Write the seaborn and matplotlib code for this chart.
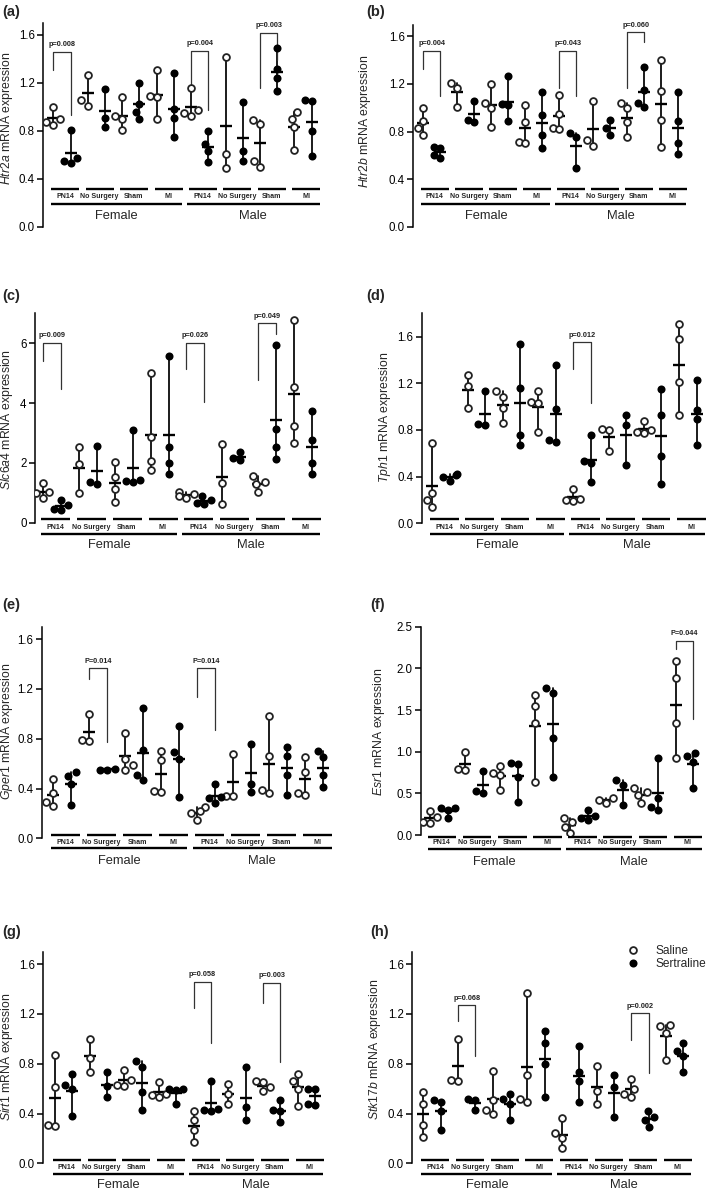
import numpy as np
import pandas as pd
import matplotlib
matplotlib.use('Agg')
import matplotlib.pyplot as plt
import matplotlib.transforms as mtransforms
from matplotlib.lines import Line2D
from matplotlib.ticker import FormatStrFormatter
import seaborn as sns
import warnings
warnings.filterwarnings('ignore')

sns.set_style('ticks')
plt.rcParams['font.family'] = ['Liberation Sans', 'DejaVu Sans']
plt.rcParams['mathtext.fontset'] = 'custom'
plt.rcParams['mathtext.it'] = 'Liberation Sans:italic'
plt.rcParams['mathtext.rm'] = 'Liberation Sans'

# ---------------------------------------------------------------------------
# Data (order: Female PN14 Sal/Ser, No Surgery, Sham, MI, then Male ...)
# ---------------------------------------------------------------------------
sexes = ['Female', 'Male']
conditions = ['PN14', 'No Surgery', 'Sham', 'MI']
treatments = ['Saline', 'Sertraline']
groups = [f'{s}|{c}|{t}' for s in sexes for c in conditions for t in treatments]

htr2a = [[1.00, 0.90, 0.87, 0.85], [0.81, 0.57, 0.55, 0.53],
         [1.27, 1.06, 1.01], [1.15, 0.91, 0.83],
         [1.08, 0.92, 0.90, 0.81], [1.20, 1.02, 0.96, 0.90],
         [1.31, 1.09, 1.08, 0.90], [1.28, 0.98, 0.91, 0.75],
         [1.16, 0.97, 0.95, 0.92], [0.80, 0.69, 0.63, 0.54],
         [1.42, 0.61, 0.49], [1.04, 0.63, 0.55],
         [0.89, 0.86, 0.55, 0.50], [1.49, 1.32, 1.24, 1.13],
         [0.96, 0.90, 0.83, 0.64], [1.06, 1.05, 0.80, 0.59]]

htr2b = [[1.00, 0.89, 0.83, 0.77], [0.67, 0.66, 0.60, 0.58],
         [1.21, 1.17, 1.01], [1.06, 0.90, 0.88],
         [1.20, 1.04, 1.00, 0.84], [1.27, 1.03, 1.02, 0.89],
         [1.02, 0.88, 0.71, 0.70], [1.13, 0.94, 0.77, 0.66],
         [1.11, 0.95, 0.83, 0.82], [0.79, 0.75, 0.49],
         [1.06, 0.73, 0.68], [0.90, 0.83, 0.77],
         [1.04, 1.00, 0.88, 0.75], [1.34, 1.15, 1.04, 1.01],
         [1.40, 1.14, 0.90, 0.67], [1.13, 0.89, 0.70, 0.61]]

slc6a4 = [[1.32, 1.02, 0.98, 0.81], [0.75, 0.59, 0.45, 0.42],
          [2.53, 1.97, 1.00], [2.58, 1.35, 1.28],
          [2.03, 1.52, 1.12, 0.69], [3.11, 1.44, 1.40, 1.36],
          [4.99, 2.86, 2.06, 1.75], [5.56, 2.53, 2.00, 1.64],
          [1.03, 0.95, 0.90, 0.84], [0.90, 0.75, 0.67, 0.64],
          [2.62, 1.33, 0.64], [2.38, 2.16, 2.08],
          [1.56, 1.36, 1.29, 1.01], [5.94, 3.12, 2.53, 2.12],
          [6.78, 4.52, 3.22, 2.66], [3.72, 2.77, 2.00, 1.64]]

tph1 = [[0.69, 0.26, 0.20, 0.14], [0.42, 0.41, 0.40, 0.36],
        [1.27, 1.18, 0.99], [1.13, 0.85, 0.84],
        [1.13, 1.08, 0.99, 0.86], [1.54, 1.16, 0.76, 0.67],
        [1.13, 1.04, 1.03, 0.78], [1.36, 0.98, 0.70, 0.71],
        [0.29, 0.21, 0.20, 0.19], [0.76, 0.53, 0.52, 0.35],
        [0.81, 0.80, 0.62], [0.93, 0.84, 0.50],
        [0.88, 0.80, 0.78, 0.77], [1.15, 0.93, 0.58, 0.34],
        [1.71, 1.58, 1.21, 0.93], [1.23, 0.97, 0.89, 0.67]]

gper1 = [[0.48, 0.36, 0.29, 0.26], [0.53, 0.50, 0.44, 0.27],
         [1.00, 0.79, 0.78], [0.56, 0.55, 0.55],
         [0.85, 0.64, 0.59, 0.55], [1.05, 0.71, 0.51, 0.47],
         [0.70, 0.63, 0.38, 0.37], [0.90, 0.69, 0.64, 0.33],
         [0.25, 0.22, 0.20, 0.15], [0.44, 0.33, 0.32, 0.28],
         [0.68, 0.34, 0.34], [0.76, 0.44, 0.37],
         [0.98, 0.66, 0.39, 0.36], [0.73, 0.66, 0.51, 0.35],
         [0.65, 0.53, 0.36, 0.35], [0.70, 0.65, 0.51, 0.41]]

esr1 = [[0.29, 0.22, 0.16, 0.15], [0.33, 0.32, 0.30, 0.20],
        [1.00, 0.79, 0.78], [0.77, 0.53, 0.51],
        [0.83, 0.74, 0.72, 0.54], [0.86, 0.85, 0.70, 0.40],
        [1.68, 1.55, 1.34, 0.64], [1.77, 1.71, 1.16, 0.70],
        [0.21, 0.16, 0.10, 0.02], [0.30, 0.23, 0.20, 0.18],
        [0.45, 0.42, 0.39], [0.66, 0.60, 0.36],
        [0.56, 0.52, 0.48, 0.38], [0.93, 0.45, 0.34, 0.30],
        [2.09, 1.89, 1.34, 0.92], [0.99, 0.95, 0.88, 0.57]]

sirt1 = [[0.87, 0.61, 0.31, 0.30], [0.72, 0.63, 0.60, 0.38],
         [1.00, 0.85, 0.73], [0.73, 0.62, 0.53],
         [0.75, 0.67, 0.63, 0.62], [0.82, 0.77, 0.57, 0.43],
         [0.65, 0.56, 0.55, 0.53], [0.60, 0.60, 0.59, 0.48],
         [0.42, 0.35, 0.27, 0.17], [0.66, 0.44, 0.43, 0.42],
         [0.64, 0.56, 0.48], [0.77, 0.45, 0.35],
         [0.66, 0.65, 0.61, 0.58], [0.51, 0.43, 0.42, 0.33],
         [0.72, 0.66, 0.60, 0.46], [0.60, 0.60, 0.48, 0.47]]

stk17b = [[0.57, 0.48, 0.31, 0.21], [0.51, 0.49, 0.42, 0.27],
          [1.00, 0.67, 0.665], [0.52, 0.51, 0.43],
          [0.74, 0.51, 0.43, 0.40], [0.56, 0.52, 0.48, 0.35],
          [1.37, 0.71, 0.52, 0.49], [1.06, 0.97, 0.80, 0.53],
          [0.36, 0.24, 0.20, 0.12], [0.94, 0.73, 0.66, 0.49],
          [0.78, 0.58, 0.48], [0.71, 0.61, 0.37],
          [0.68, 0.60, 0.56, 0.535], [0.42, 0.37, 0.35, 0.29],
          [1.11, 1.10, 1.05, 0.83], [0.97, 0.90, 0.86, 0.73]]

# significance brackets: (left group, right group, left leg, top, right leg, text)
brackets = {
    'a': [(0, 1, 1.31, 1.46, 0.93, 'p=0.008'), (8, 9, 1.155, 1.47, 0.975, 'p=0.004'),
          (12, 13, 1.155, 1.62, 1.39, 'p=0.003')],
    'b': [(0, 1, 1.325, 1.48, 1.095, 'p=0.004'), (8, 9, 1.165, 1.48, 1.095, 'p=0.043'),
          (12, 13, 1.165, 1.635, 1.55, 'p=0.060')],
    'c': [(0, 1, 5.41, 6.02, 4.47, 'p=0.009'), (8, 9, 5.13, 6.02, 4.03, 'p=0.026'),
          (12, 13, 4.77, 6.67, 6.32, 'p=0.049')],
    'd': [(8, 9, 1.32, 1.55, 1.03, 'p=0.012')],
    'e': [(2, 3, 1.276, 1.365, 0.776, 'P=0.014'), (8, 9, 1.137, 1.365, 0.87, 'P=0.014')],
    'f': [(14, 15, 2.23, 2.33, 1.39, 'P=0.044')],
    'g': [(8, 9, 1.25, 1.46, 0.97, 'p=0.058'), (12, 13, 1.29, 1.45, 0.81, 'p=0.003')],
    'h': [(2, 3, 1.145, 1.27, 0.864, 'p=0.068'), (12, 13, 0.99, 1.204, 0.728, 'p=0.002')],
}

# ---------------------------------------------------------------------------
# Layout (pixel positions in the 709 x 1193 figure)
# ---------------------------------------------------------------------------
W, H = 709, 1193
t16 = [0, 0.4, 0.8, 1.2, 1.6]
panels = [
    # key, gene, values, ymax, ticks, fmt, (axis x, top, zero, first pt, last pt),
    # annotation rows (short line, label, long line, sex), label pos, ylabel pos
    ('a', 'Htr2a', htr2a, 1.7, t16, '%.1f', (43.3, 23, 226.7, 53.3, 311.7),
     (189.3, 196.7, 204, 216), (2, 12), (15, 118)),
    ('b', 'Htr2b', htr2b, 1.7, t16, '%.1f', (413.3, 24.5, 226.7, 423.3, 678.3),
     (189.3, 196.7, 204, 216), (366, 12), (373, 121)),
    ('c', 'Slc6a4', slc6a4, 7.0, [0, 2, 4, 6], '%d', (35, 313.3, 522.7, 43.3, 311.7),
     (519.3, 527.3, 533.7, 545), (2, 296), (15, 420)),
    ('d', 'Tph1', tph1, 1.8, t16, '%.1f', (421.7, 313.3, 523.3, 432.3, 696.7),
     (519.3, 527.3, 533.7, 545), (366, 296), (393, 417)),
    ('e', 'Gper1', gper1, 1.7, t16, '%.1f', (41.7, 626.7, 838.3, 53.3, 323.3),
     (835, 842.3, 848.3, 860.7), (2, 605), (15, 731)),
    ('f', 'Esr1', esr1, 2.5, [0, 0.5, 1.0, 1.5, 2.0, 2.5], '%.1f',
     (421, 626.7, 835, 430, 693.3),
     (836.7, 842.3, 849.3, 861.7), (370, 605), (387, 732)),
    ('g', 'Sirt1', sirt1, 1.7, t16, '%.1f', (43.3, 951.7, 1163.3, 55, 315),
     (1160, 1167.7, 1174, 1185), (2, 932), (15, 1057)),
    ('h', 'Stk17b', stk17b, 1.7, t16, '%.1f', (412.3, 951.7, 1163.3, 423.3, 683.3),
     (1160, 1167.7, 1174, 1185), (370, 932), (383, 1049)),
]

fig = plt.figure(figsize=(W / 100, H / 100), dpi=100)


def long_frame(values):
    rows = []
    for g, vals in zip(groups, values):
        for v in vals:
            rows.append({'group': g, 'value': v, 'treatment': g.split('|')[2]})
    return pd.DataFrame(rows)


for key, gene, values, ymax, ticks, fmt, box, rows, lab_pos, ylab_pos in panels:
    axis_x, top, zero, first, last = box
    spacing = (last - first) / 15
    right = last + 1.3 * spacing
    ax = fig.add_axes([axis_x / W, 1 - zero / H, (right - axis_x) / W, (zero - top) / H])
    df = long_frame(values)

    # mean with range
    sns.pointplot(data=df, x='group', y='value', order=groups, estimator='mean',
                  errorbar=('pi', 100), color='black', marker='_', markersize=8.6,
                  markeredgewidth=1.7, linestyle='none', err_kws={'linewidth': 1.25},
                  ax=ax)
    # individual points
    sns.swarmplot(data=df[df.treatment == 'Saline'], x='group', y='value', order=groups,
                  color='white', edgecolor='#222222', linewidth=1.3, size=4.9, ax=ax,
                  zorder=4)
    sns.swarmplot(data=df[df.treatment == 'Sertraline'], x='group', y='value', order=groups,
                  color='black', edgecolor='black', linewidth=0, size=5.8, ax=ax, zorder=4)

    ax.set_xlim((axis_x - first) / spacing, 15 + (right - last) / spacing)
    ax.set_ylim(0, ymax)
    ax.set_yticks(ticks)
    ax.yaxis.set_major_formatter(FormatStrFormatter(fmt))
    ax.set_xticks([])
    ax.set_xlabel('')
    for s in ['top', 'right', 'bottom']:
        ax.spines[s].set_visible(False)
    ax.spines['left'].set_linewidth(1.1)
    ax.spines['left'].set_color('black')
    ax.tick_params(axis='y', direction='out', length=4, width=1.1, labelsize=8.3,
                   pad=2, colors='black')
    ax.set_ylabel(f'$\\mathit{{{gene}}}$ mRNA expression', fontsize=8.8)
    ax.yaxis.set_label_coords(ylab_pos[0] / W, 1 - ylab_pos[1] / H, transform=fig.transFigure)

    # group / sex annotation rows below the data
    blend = mtransforms.blended_transform_factory(ax.transData, fig.transFigure)
    y_short, y_lab, y_long, y_sex = [1 - r / H for r in rows]
    for k, cond in enumerate(conditions * 2):
        x0 = 2 * k
        ax.plot([x0 - 0.12, x0 + 1.5], [y_short, y_short], transform=blend, color='black',
                lw=1.7, clip_on=False, solid_capstyle='butt')
        ax.text(x0 + 0.68, y_lab, cond, transform=blend, ha='center', va='center',
                fontsize=5.1, fontweight='bold')
    for x0, x1, xm, sex in [(-0.12, 7.45, 3.68, 'Female'), (7.74, 15.47, 11.6, 'Male')]:
        ax.plot([x0, x1], [y_long, y_long], transform=blend, color='black', lw=1.7,
                clip_on=False, solid_capstyle='butt')
        ax.text(xm, y_sex, sex, transform=blend, ha='center', va='center', fontsize=9.3)

    # significance brackets
    for il, ir, yl, yt, yr, txt in brackets[key]:
        ax.plot([il, il, ir, ir], [yl, yt, yt, yr], color='#333333', lw=0.9,
                clip_on=False)
        ax.annotate(txt, xy=((il + ir) / 2, yt), xytext=(0, 2.5),
                    textcoords='offset points', ha='center', va='bottom',
                    fontsize=5.3, fontweight='bold', color='#222222')

    fig.text(lab_pos[0] / W, 1 - lab_pos[1] / H, f'({key})', fontsize=10.5,
             fontweight='bold', ha='left', va='center')

    if key == 'h':
        handles = [Line2D([], [], marker='o', ls='none', mfc='white', mec='#222222',
                          mew=1.3, ms=4.9),
                   Line2D([], [], marker='o', ls='none', mfc='black', mec='black',
                          mew=0, ms=5.8)]
        ax.legend(handles, treatments, loc='upper left',
                  bbox_to_anchor=(627 / W, 1 - 945 / H), bbox_transform=fig.transFigure,
                  frameon=False, fontsize=8.6, handlelength=1.0, handletextpad=1.4,
                  labelspacing=0.12, borderpad=0, borderaxespad=0)

fig.savefig('out.png', dpi=100)
